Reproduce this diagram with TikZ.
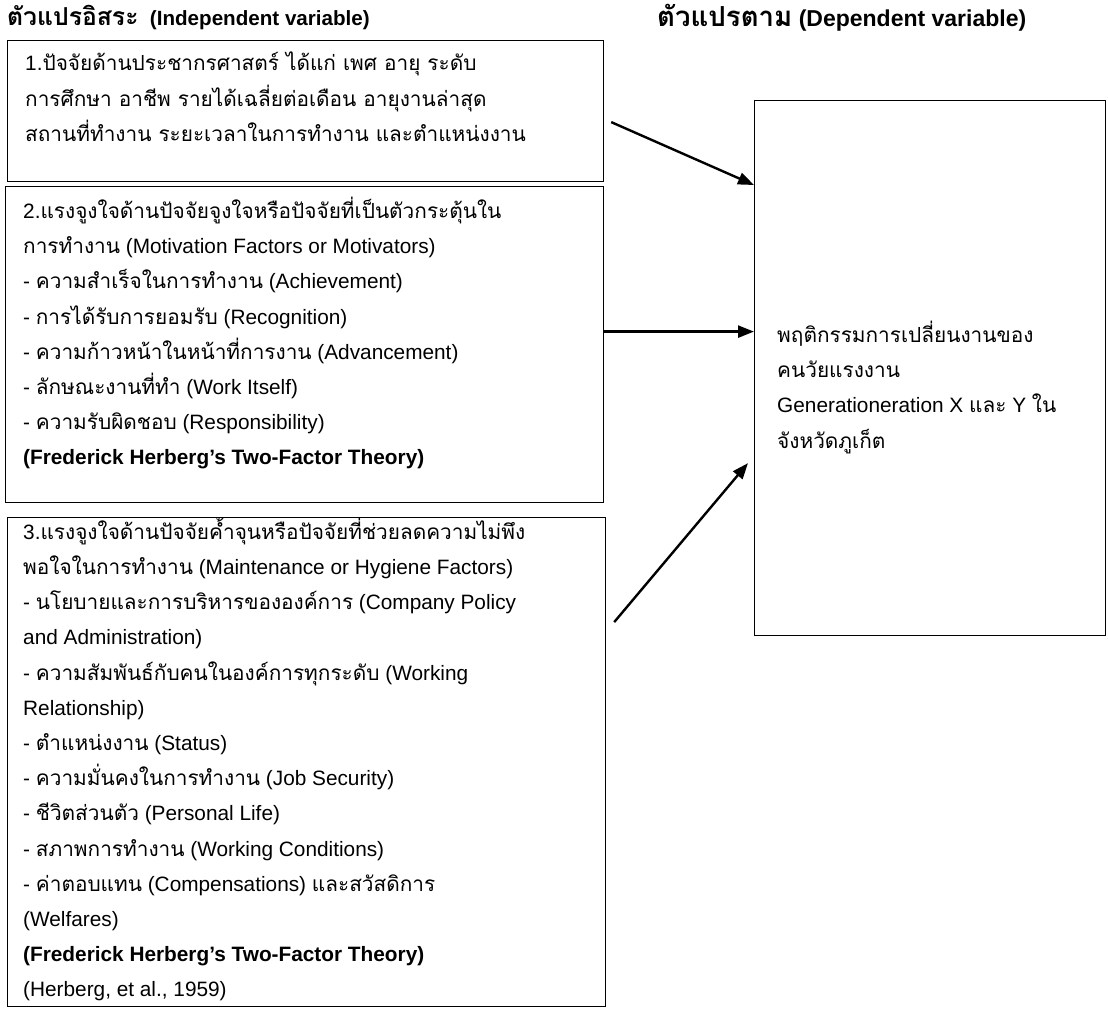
\documentclass[tikz,border=0pt]{standalone}
\usepackage{fontspec}
\setmainfont{Liberation Sans}
\newfontfamily\thaifont[Script=Thai]{Loma}
\newfontfamily\thaihead[Script=Thai, Scale=1.2]{Loma}
\newcommand{\thai}[1]{{\thaifont #1}}
\usetikzlibrary{positioning,arrows.meta}

\begin{document}
\begin{tikzpicture}[x=1pt, y=-1pt,
  box/.style={draw, rectangle, line width=1.2pt, inner sep=0pt, anchor=north west},
  txt/.style={align=left, inner sep=0pt, font=\fontsize{20.8}{35.2}\selectfont},
  head/.style={inner sep=0pt, anchor=west, font=\fontsize{20.6}{22}\selectfont\bfseries},
  link/.style={-{Triangle[length=16pt,width=12pt]}, line width=2.4pt}]
  \useasboundingbox (0,0) rectangle (1108,1014);

  \node[head] (indep) at (7,18) {{\thaihead ตัวแปรอิสระ}\ \ (Independent variable)};
  \node[head, font=\fontsize{23}{24}\selectfont\bfseries] (dep) at (657,18)
    {{\thaihead ตัวแปรตาม} (Dependent variable)};

  \node[box, minimum width=596pt, minimum height=141pt] (b1) at (7,40) {};
  \node[box, minimum width=598pt, minimum height=316pt] (b2) at (5,186) {};
  \node[box, minimum width=598pt, minimum height=489pt] (b3) at (7,517) {};
  \node[box, minimum width=351pt, minimum height=535pt] (dv) at (754,100) {};

  \node[txt, below right=12pt and 18pt of b1.north west] (t1) {%
    1.\thai{ปัจจัยด้านประชากรศาสตร์ ได้แก่ เพศ อายุ ระดับ}\\
    \thai{การศึกษา อาชีพ รายได้เฉลี่ยต่อเดือน อายุงานล่าสุด}\\
    \thai{สถานที่ทำงาน ระยะเวลาในการทำงาน และตำแหน่งงาน}};

  \node[txt, below right=11pt and 18pt of b2.north west] (t2) {%
    2.\thai{แรงจูงใจด้านปัจจัยจูงใจหรือปัจจัยที่เป็นตัวกระตุ้นใน}\\
    \thai{การทำงาน} (Motivation Factors or Motivators)\\
    - \thai{ความสำเร็จในการทำงาน} (Achievement)\\
    - \thai{การได้รับการยอมรับ} (Recognition)\\
    - \thai{ความก้าวหน้าในหน้าที่การงาน} (Advancement)\\
    - \thai{ลักษณะงานที่ทำ} (Work Itself)\\
    - \thai{ความรับผิดชอบ} (Responsibility)\\
    \textbf{(Frederick Herberg’s Two-Factor Theory)}};

  \node[txt, below right=0pt and 16pt of b3.north west] (t3) {%
    3.\thai{แรงจูงใจด้านปัจจัยค้ำจุนหรือปัจจัยที่ช่วยลดความไม่พึง}\\
    \thai{พอใจในการทำงาน} (Maintenance or Hygiene Factors)\\
    - \thai{นโยบายและการบริหารขององค์การ} (Company Policy\\
    and Administration)\\
    - \thai{ความสัมพันธ์กับคนในองค์การทุกระดับ} (Working\\
    Relationship)\\
    - \thai{ตำแหน่งงาน} (Status)\\
    - \thai{ความมั่นคงในการทำงาน} (Job Security)\\
    - \thai{ชีวิตส่วนตัว} (Personal Life)\\
    - \thai{สภาพการทำงาน} (Working Conditions)\\
    - \thai{ค่าตอบแทน} (Compensations) \thai{และสวัสดิการ}\\
    (Welfares)\\
    \textbf{(Frederick Herberg’s Two-Factor Theory)}\\
    (Herberg, et al., 1959)};

  \node[txt, below right=221pt and 23pt of dv.north west] (t4) {%
    \thai{พฤติกรรมการเปลี่ยนงานของ}\\
    \thai{คนวัยแรงงาน}\\
    Generationeration X \thai{และ} Y \thai{ใน}\\
    \thai{จังหวัดภูเก็ต}};

  % arrows into the dependent variable
  \coordinate (s1) at ([xshift=7pt, yshift=-11pt]b1.east);
  \coordinate (e1) at ([yshift=-85pt]dv.north west);
  \coordinate (s2) at ([yshift=13pt]b2.east);
  \coordinate (s3) at ([xshift=8pt, yshift=140pt]b3.east);
  \coordinate (e3) at ([xshift=-6pt, yshift=-95pt]dv.west);

  \draw[link] (s1) -- (e1);
  \draw[link] (s2) -- (s2 -| dv.west);
  \draw[link] (s3) -- (e3);
\end{tikzpicture}
\end{document}
